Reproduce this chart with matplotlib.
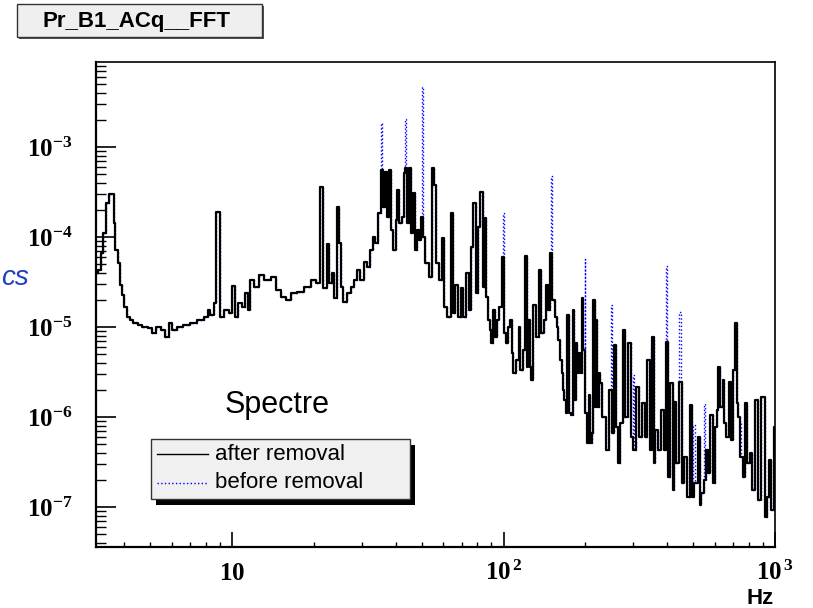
import matplotlib.pyplot as plt
import numpy as np
from matplotlib.patches import Rectangle
from matplotlib.lines import Line2D
from matplotlib.ticker import LogLocator, NullFormatter

plt.rcParams['font.family'] = ['Liberation Sans', 'DejaVu Sans']
plt.rcParams['mathtext.fontset'] = 'custom'
plt.rcParams['mathtext.rm'] = 'Liberation Serif:bold'
plt.rcParams['mathtext.bf'] = 'Liberation Serif:bold'
plt.rcParams['mathtext.it'] = 'Liberation Serif:bold'

## DATA
freq_after = [
    3.17, 3.24, 3.31, 3.40, 3.48, 3.53, 3.65, 3.69, 3.73, 3.84, 3.90, 3.97, 4.05, 4.14, 4.26, 4.39, 4.58, 4.71, 5.05, 5.12,
    5.35, 5.58, 5.77, 5.94, 6.07, 6.43, 6.80, 7.20, 7.62, 8.07, 8.18, 8.42, 8.66, 8.83, 8.90, 9.16, 9.56, 9.83, 10.1, 10.4,
    10.7, 11.0, 11.3, 11.5, 11.8, 12.2, 12.9, 13.4, 14.3, 14.8, 15.5, 16.1, 16.8, 17.8, 18.9, 20.0, 20.8, 21.2, 22.2, 22.5,
    23.0, 23.6, 24.0, 24.7, 25.0, 25.4, 25.9, 26.9, 27.7, 28.4, 29.2, 30.1, 31.0, 31.8, 32.8, 33.2, 34.2, 35.0, 35.7, 36.2,
    36.7, 37.4, 38.0, 38.8, 39.7, 40.3, 40.9, 41.7, 42.6, 43.1, 43.9, 44.5, 45.4, 46.0, 46.7, 47.6, 48.3, 49.1, 49.8, 50.8,
    52.3, 53.8, 55.0, 56.1, 56.9, 58.5, 59.7, 61.1, 62.8, 64.7, 65.6, 67.1, 68.4, 70.4, 71.8, 73.5, 75.1, 76.6, 78.2, 79.5,
    81.1, 83.0, 84.6, 85.8, 87.1, 88.3,
    89.5, 90.8, 92.1, 93.4, 95.3, 97.5, 99.7, 100.9, 103.2, 104.6, 106.8, 107.7, 109.2, 112.4, 114.6, 116.2, 118.8, 121.3, 122.3, 124.0,
    125.8, 127.6, 129.4, 133.2, 136.1, 138.9, 142.0, 145.0, 146.9, 150.0, 152.6, 155.6, 157.8, 160.0, 162.3, 164.7, 166.1, 168.0, 170.8, 172.3,
    175.7, 179.3, 180.8, 182.8, 185.5, 187.1, 189.7, 192.4, 195.2, 197.9, 200.7, 204.7, 206.4, 209.4, 212.5, 216.1, 218.5, 220.4, 222.8, 226.1,
    228.0, 234.5, 241.4, 248.3, 251.9, 256.8, 261.2, 266.4, 271.9, 277.9, 284.4, 292.5, 298.5, 302.6, 313.1, 320.4, 327.8, 334.2, 342.0, 348.7,
    355.6, 358.6, 366.9, 374.2, 385.2, 392.8, 401.9, 407.4, 415.8, 422.9, 427.6, 437.5, 450.0, 456.5, 469.5, 478.7,
    489.8, 496.9, 510.9, 525.5, 530.0, 541.0, 551.7, 564.6, 572.3, 584.0, 594.0, 605.8, 614.6, 623.0, 635.8, 646.7, 655.6, 669.1, 682.3, 692.2,
    704.1, 718.0, 728.5, 738.5, 753.6, 770.4, 781.6, 797.0, 815.5, 834.4, 858.2, 875.1, 908.4, 926.3, 944.6, 960.8, 980.6, 998.0]

amp_after = [
    3.95e-5, 4.3e-5, 6.6e-5, 1.12e-4, 2.39e-4, 3.0e-4, 3.0e-4, 1.44e-4, 7.2e-5, 5.1e-5, 2.93e-5, 2.27e-5, 1.68e-5, 1.30e-5, 1.20e-5, 1.10e-5, 1.05e-5, 9.9e-6, 9.7e-6, 8.65e-6,
    9.9e-6, 9.3e-6, 7.8e-6, 1.10e-5, 9.3e-6, 1.01e-5, 1.05e-5, 1.12e-5, 1.20e-5, 1.30e-5, 1.55e-5, 1.36e-5, 1.83e-5, 1.91e-4, 1.91e-4, 1.30e-5, 1.55e-5, 1.42e-5, 2.85e-5, 1.30e-5,
    1.83e-5, 1.68e-5, 2.37e-5, 1.55e-5, 3.33e-5, 2.81e-5, 3.78e-5, 3.33e-5, 3.56e-5, 2.58e-5, 2.17e-5, 2.0e-5, 2.37e-5, 2.47e-5, 2.81e-5, 3.33e-5, 3.06e-5, 3.62e-4, 2.69e-5, 8.36e-5,
    3.06e-5, 3.95e-5, 2.08e-5, 2.17e-4, 8.51e-5, 2.80e-5, 1.91e-5, 2.37e-5, 2.80e-5, 3.33e-5, 4.30e-5, 3.33e-5, 5.31e-5, 4.68e-5, 7.17e-5, 1.01e-4, 8.51e-5, 1.83e-4, 5.55e-4, 2.17e-4,
    5.31e-4, 1.68e-4, 5.55e-4, 1.20e-4, 7.17e-5, 1.55e-4, 3.33e-4, 1.42e-4, 1.68e-4, 5.10e-4, 5.80e-4, 1.42e-4, 5.80e-4, 1.10e-4, 3.06e-4, 7.17e-5, 1.20e-4, 9.26e-5, 1.68e-4, 1.01e-4,
    5.10e-5, 3.62e-5, 5.80e-4, 3.78e-4, 5.10e-5, 3.33e-5, 9.67e-5, 1.68e-5, 1.30e-5, 1.83e-4, 1.42e-5, 2.93e-5, 1.30e-5, 2.69e-5, 1.30e-5, 3.95e-5, 1.55e-5, 7.80e-5, 2.37e-4, 2.37e-5,
    1.30e-4, 3.19e-4, 2.80e-5, 1.63e-4, 2.17e-5, 1.20e-5,
    9.26e-6, 6.59e-6, 1.55e-5, 7.80e-6, 1.20e-5, 1.68e-5, 6.04e-5, 8.51e-6, 6.59e-6, 1.01e-5, 1.20e-5, 5.10e-6, 3.06e-6, 4.30e-6, 1.01e-5, 3.33e-6, 5.55e-6, 6.15e-5, 3.62e-6, 1.20e-5,
    3.62e-6, 2.58e-6, 1.75e-5, 7.80e-6, 4.30e-5, 8.51e-6, 1.20e-5, 2.93e-5, 1.55e-5, 6.59e-5, 2.0e-5, 1.30e-5, 1.01e-5, 7.17e-6, 4.30e-6, 3.06e-6, 2.0e-6, 1.55e-6, 1.10e-6, 1.36e-5,
    1.10e-6, 1.05e-6, 1.55e-5, 1.55e-6, 6.59e-6, 3.06e-6, 5.10e-6, 3.06e-6, 2.08e-5, 5.55e-6, 1.10e-6, 5.10e-7, 1.76e-6, 5.10e-7, 6.59e-7, 2.0e-5, 1.30e-6, 1.20e-5, 1.30e-6, 3.06e-6,
    2.37e-6, 1.01e-6, 4.30e-7, 2.0e-6, 6.59e-7, 6.31e-6, 7.80e-7, 3.06e-7, 8.51e-7, 9.26e-6, 1.01e-6, 6.59e-6, 6.04e-7, 4.30e-7, 2.17e-6, 6.04e-7, 1.42e-6, 6.04e-7, 4.30e-6, 4.30e-7,
    7.80e-6, 3.06e-7, 7.17e-7, 4.30e-7, 1.20e-6, 4.30e-7, 6.87e-6, 2.17e-7, 2.37e-6, 1.55e-7, 1.48e-6, 3.06e-7, 2.47e-6, 1.83e-7, 3.62e-7, 1.30e-7,
    1.36e-6, 1.30e-7, 1.83e-7, 6.04e-7, 1.05e-7, 1.42e-7, 2.0e-7, 4.30e-7, 2.37e-7, 1.05e-6, 1.83e-7, 7.80e-7, 1.20e-6, 3.62e-6, 1.30e-6, 2.58e-6, 8.51e-7, 6.04e-7, 2.47e-6, 5.55e-7,
    3.33e-6, 1.10e-5, 1.42e-6, 1.01e-6, 3.62e-7, 2.17e-7, 1.42e-6, 3.06e-7, 3.95e-7, 1.55e-7, 1.55e-6, 1.20e-7, 1.68e-6, 7.80e-8, 1.30e-7, 3.33e-7, 9.26e-8, 7.80e-7]

# lines that were removed (only present in the "before removal" spectrum)
line_freq = [35.5, 43.8, 50, 100, 150, 200, 250, 300, 350, 400, 450, 500, 550, 750]
line_amp = [1.83e-3, 2.05e-3, 4.68e-3, 1.83e-4, 4.76e-4, 5.65e-5, 1.75e-5, 2.93e-6,
            6.04e-6, 4.76e-5, 1.46e-5, 8.15e-7, 1.39e-6, 8.87e-7]

x_ticks = [10, 100, 1000]
x_ticklabels = [r'$\mathbf{10}$', r'$\mathbf{10^{\,2}}$', r'$\mathbf{10^{\,3}}$']
y_ticks = [1e-7, 1e-6, 1e-5, 1e-4, 1e-3]
y_ticklabels = [r'$\mathbf{10^{-7}}$', r'$\mathbf{10^{-6}}$', r'$\mathbf{10^{-5}}$',
                r'$\mathbf{10^{-4}}$', r'$\mathbf{10^{-3}}$']

W, H = 813, 608
fig = plt.figure(figsize=(W / 100, H / 100), dpi=100)
ax = fig.add_axes([96 / W, 1 - 547 / H, (775 - 96) / W, (547 - 62) / H])

# before = after + removed lines
fb = np.concatenate([freq_after, line_freq])
ab = np.concatenate([amp_after, line_amp])
order = np.argsort(fb)
ax.plot(fb[order], ab[order], color='blue', ls=':', lw=1.0,
        drawstyle='steps-mid', zorder=2)
ax.plot(freq_after, amp_after, color='black', lw=1.6,
        drawstyle='steps-mid', zorder=3)

## AXES
ax.set_xscale('log')
ax.set_yscale('log')
ax.set_xlim(3.15, 1000)
ax.set_ylim(3.6e-8, 8.8e-3)
ax.set_xticks(x_ticks)
ax.set_xticklabels(x_ticklabels, fontsize=18)
ax.set_yticks(y_ticks)
ax.set_yticklabels(y_ticklabels, fontsize=18)
for axis in (ax.xaxis, ax.yaxis):
    axis.set_minor_locator(LogLocator(base=10, subs=np.arange(2, 10), numticks=30))
    axis.set_minor_formatter(NullFormatter())
ax.tick_params(which='both', direction='in', top=False, right=False, color='black')
ax.tick_params(axis='y', which='major', length=14.4, width=1.2, pad=17)
ax.tick_params(axis='y', which='minor', length=7.2, width=1.0)
ax.tick_params(axis='x', which='major', length=10.8, width=1.2, pad=10)
ax.tick_params(axis='x', which='minor', length=3.6, width=1.0)
for s in ax.spines.values():
    s.set_linewidth(1.2)
ax.spines['left'].set_linewidth(1.6)
ax.spines['bottom'].set_linewidth(1.6)


def fx(x):
    return x / W


def fy(y):
    return 1 - y / H


## TEXTS
fig.text(fx(277), fy(413), 'Spectre', fontsize=22, ha='center', va='baseline')
fig.text(fx(774), fy(604), 'Hz', fontsize=16, fontweight='bold', ha='right', va='baseline')
fig.text(fx(1), fy(285), 'cs', fontsize=20, style='italic', color='#2040c0',
         ha='left', va='baseline')

# title box
fig.add_artist(Rectangle((fx(19), fy(39)), (262 - 17) / W, (37 - 4) / H,
                         transform=fig.transFigure, facecolor='#555555', edgecolor='none'))
fig.add_artist(Rectangle((fx(17), fy(37)), (262 - 17) / W, (37 - 4) / H,
                         transform=fig.transFigure, facecolor='#efefef',
                         edgecolor='#333333', lw=1))
fig.text(fx(137), fy(21), 'Pr_B1_ACq__FFT', fontsize=16, fontweight='bold',
         ha='center', va='center')

# legend
fig.add_artist(Rectangle((fx(156), fy(505)), (410 - 151) / W, (499 - 439) / H,
                         transform=fig.transFigure, facecolor='black', edgecolor='none'))
fig.add_artist(Rectangle((fx(151), fy(499)), (410 - 151) / W, (499 - 439) / H,
                         transform=fig.transFigure, facecolor='#f0f0f0',
                         edgecolor='#333333', lw=1))
fig.add_artist(Line2D([fx(157), fx(208)], [fy(454), fy(454)], transform=fig.transFigure,
                      color='black', lw=1))
fig.add_artist(Line2D([fx(157), fx(208)], [fy(483), fy(483)], transform=fig.transFigure,
                      color='blue', lw=1, ls=':'))
fig.text(fx(215), fy(454), 'after removal', fontsize=16, ha='left', va='center')
fig.text(fx(215), fy(483), 'before removal', fontsize=16, ha='left', va='center')

fig.savefig('out.png', dpi=100)
